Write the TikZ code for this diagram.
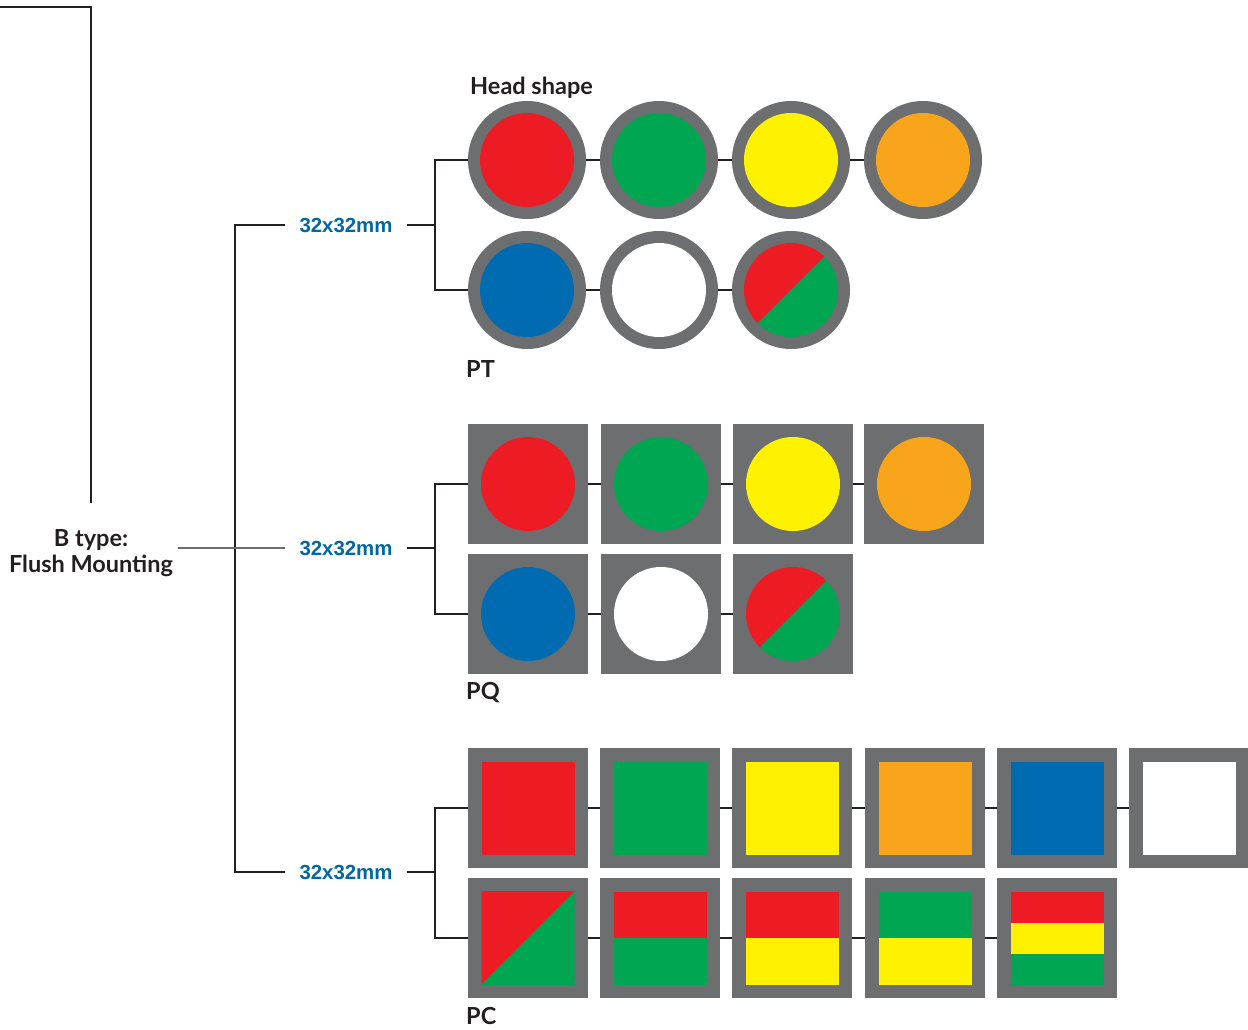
\documentclass[tikz,border=0pt]{standalone}
\usepackage{fontspec}
\setmainfont{Lato}
\newfontfamily\lblfont{Liberation Sans}
\definecolor{rgray}{HTML}{6D6E70}
\definecolor{dk}{HTML}{231F20}
\definecolor{cred}{HTML}{ED1C24}
\definecolor{cgreen}{HTML}{00A651}
\definecolor{cyellow}{HTML}{FFF200}
\definecolor{corange}{HTML}{F8A51B}
\definecolor{cblue}{HTML}{006BB0}
\definecolor{lblue}{HTML}{0066A6}
\tikzset{
  conn/.style={draw=dk, line width=1.3pt},
  ring/.style={circle, fill=rgray, minimum size=118pt, inner sep=0pt, outer sep=0pt},
  sq/.style={rectangle, fill=rgray, minimum size=120pt, inner sep=0pt, outer sep=0pt},
  sizelbl/.style={font=\lblfont\bfseries\fontsize{20.4}{24}\selectfont, text=lblue, inner xsep=14pt, inner ysep=2pt},
  title/.style={font=\bfseries\fontsize{23.5}{26}\selectfont, text=dk, inner sep=0pt},
}
\newcommand\incirc[2]{\fill[#2] (#1.center) circle (47pt);}
\newcommand\insq[2]{\fill[#2] ([shift={(-46.5,-46.5)}]#1.center) rectangle ([shift={(46.5,46.5)}]#1.center);}
\newcommand\splitfill[1]{%
  \fill[cred] ([shift={(-50,50)}]#1.center) -- ([shift={(50,-50)}]#1.center) -- ([shift={(-50,-50)}]#1.center) -- cycle;
  \fill[cgreen] ([shift={(-50,50)}]#1.center) -- ([shift={(50,-50)}]#1.center) -- ([shift={(50,50)}]#1.center) -- cycle;}
\begin{document}
\begin{tikzpicture}[x=1pt,y=-1pt]
\useasboundingbox (0,0) rectangle (1248,1030);
% left label and top line
\node[title, align=center] (bt) at (91,553) {B type:\\Flush Mounting};
\coordinate (tl) at (0,7);
\coordinate (tlend) at (91,503);
\draw[conn] (tl) -- (91,7) -- (tlend);
% size labels
\node[sizelbl] (s1) at (346,225) {32x32mm};
\node[sizelbl] (s2) at (346,548) {32x32mm};
\node[sizelbl] (s3) at (346,872) {32x32mm};
\coordinate (sp1) at (235,225);
\coordinate (sp2) at (235,548);
\coordinate (sp3) at (235,872);
\draw[conn] (s1.west) -- (sp1) -- (sp3) -- (s3.west);
\draw[draw=rgray, line width=1.3pt] ([xshift=5pt]bt.east |- sp2) -- (s2.west);
\coordinate (j1) at (435,225);
\coordinate (j2) at (435,548);
\coordinate (j3) at (435,872);
% ---- PT circles
\node[title, anchor=west] (hs) at (470,88) {Head shape};
\node[ring] (a1) at (527,160) {};
\node[ring] (a2) at (659,160) {};
\node[ring] (a3) at (791,160) {};
\node[ring] (a4) at (923,160) {};
\node[ring] (b1) at (527,290) {};
\node[ring] (b2) at (659,290) {};
\node[ring] (b3) at (791,290) {};
\incirc{a1}{cred}\incirc{a2}{cgreen}\incirc{a3}{cyellow}\incirc{a4}{corange}
\incirc{b1}{cblue}\incirc{b2}{white}
\begin{scope}
  \clip (b3.center) circle (47pt);
  \splitfill{b3}
\end{scope}
\draw[conn] (s1.east) -- (j1);
\draw[conn] (a1.west) -| (j1) |- (b1.west);
\draw[conn] (a1.east) -- (a2.west);
\draw[conn] (a2.east) -- (a3.west);
\draw[conn] (a3.east) -- (a4.west);
\draw[conn] (b1.east) -- (b2.west);
\draw[conn] (b2.east) -- (b3.west);
\node[title, anchor=west] (pt) at (466,369) {PT};
% ---- PQ squares
\node[sq] (c1) at (528,484) {};
\node[sq] (c2) at (661,484) {};
\node[sq] (c3) at (793,484) {};
\node[sq] (c4) at (924,484) {};
\node[sq] (d1) at (528,614) {};
\node[sq] (d2) at (661,614) {};
\node[sq] (d3) at (793,614) {};
\incirc{c1}{cred}\incirc{c2}{cgreen}\incirc{c3}{cyellow}\incirc{c4}{corange}
\incirc{d1}{cblue}\incirc{d2}{white}
\begin{scope}
  \clip (d3.center) circle (47pt);
  \splitfill{d3}
\end{scope}
\draw[conn] (s2.east) -- (j2);
\draw[conn] (c1.west) -| (j2) |- (d1.west);
\draw[conn] (c1.east) -- (c2.west);
\draw[conn] (c2.east) -- (c3.west);
\draw[conn] (c3.east) -- (c4.west);
\draw[conn] (d1.east) -- (d2.west);
\draw[conn] (d2.east) -- (d3.west);
\node[title, anchor=west] (pq) at (466,693) {PQ};
% ---- PC squares
\node[sq] (e1) at (528,808) {};
\node[sq] (e2) at (660,808) {};
\node[sq] (e3) at (792,808) {};
\node[sq] (e4) at (925,808) {};
\node[sq] (e5) at (1057,808) {};
\node[sq] (e6) at (1189,808) {};
\node[sq] (f1) at (528,938) {};
\node[sq] (f2) at (660,938) {};
\node[sq] (f3) at (792,938) {};
\node[sq] (f4) at (925,938) {};
\node[sq] (f5) at (1057,938) {};
\insq{e1}{cred}\insq{e2}{cgreen}\insq{e3}{cyellow}\insq{e4}{corange}\insq{e5}{cblue}\insq{e6}{white}
% split square
\begin{scope}
  \clip ([shift={(-46.5,-46.5)}]f1.center) rectangle ([shift={(46.5,46.5)}]f1.center);
  \splitfill{f1}
\end{scope}
% two stripes
\fill[cred] ([shift={(-46.5,-46.5)}]f2.center) rectangle ([shift={(46.5,0)}]f2.center);
\fill[cgreen] ([shift={(-46.5,0)}]f2.center) rectangle ([shift={(46.5,46.5)}]f2.center);
\fill[cred] ([shift={(-46.5,-46.5)}]f3.center) rectangle ([shift={(46.5,0)}]f3.center);
\fill[cyellow] ([shift={(-46.5,0)}]f3.center) rectangle ([shift={(46.5,46.5)}]f3.center);
\fill[cgreen] ([shift={(-46.5,-46.5)}]f4.center) rectangle ([shift={(46.5,0)}]f4.center);
\fill[cyellow] ([shift={(-46.5,0)}]f4.center) rectangle ([shift={(46.5,46.5)}]f4.center);
% three stripes
\fill[cred] ([shift={(-46.5,-46.5)}]f5.center) rectangle ([shift={(46.5,-15.5)}]f5.center);
\fill[cyellow] ([shift={(-46.5,-15.5)}]f5.center) rectangle ([shift={(46.5,15.5)}]f5.center);
\fill[cgreen] ([shift={(-46.5,15.5)}]f5.center) rectangle ([shift={(46.5,46.5)}]f5.center);
\draw[conn] (s3.east) -- (j3);
\draw[conn] (e1.west) -| (j3) |- (f1.west);
\draw[conn] (e1.east) -- (e2.west);
\draw[conn] (e2.east) -- (e3.west);
\draw[conn] (e3.east) -- (e4.west);
\draw[conn] (e4.east) -- (e5.west);
\draw[conn] (e5.east) -- (e6.west);
\draw[conn] (f1.east) -- (f2.west);
\draw[conn] (f2.east) -- (f3.west);
\draw[conn] (f3.east) -- (f4.west);
\draw[conn] (f4.east) -- (f5.west);
\node[title, anchor=west] (pc) at (466,1016) {PC};
\end{tikzpicture}
\end{document}
